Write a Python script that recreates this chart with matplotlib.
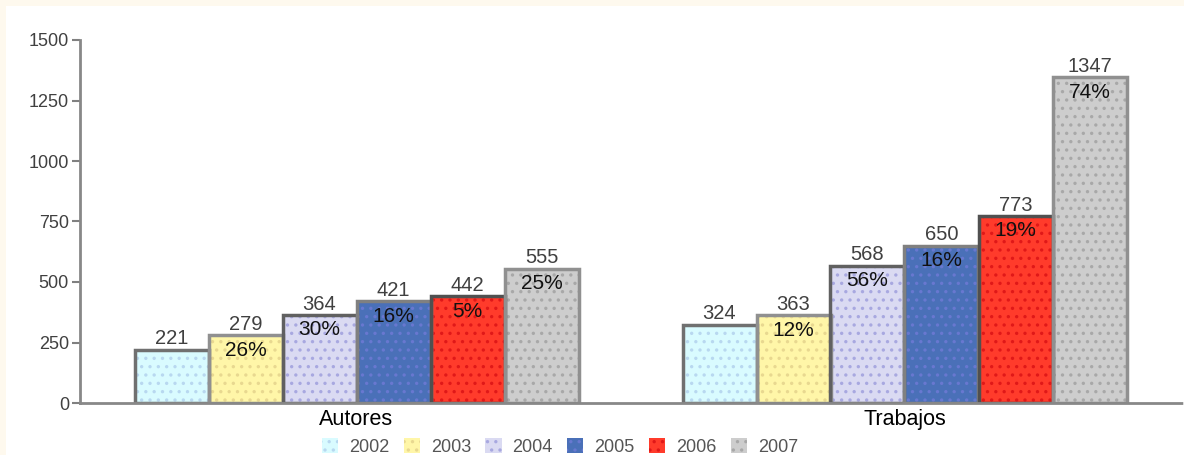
import matplotlib
matplotlib.use("Agg")
import matplotlib.pyplot as plt
from matplotlib.patches import Rectangle, Patch
import numpy as np

plt.rcParams['font.family'] = ['Liberation Sans', 'DejaVu Sans']

categories = ["Autores", "Trabajos"]
years = ["2002", "2003", "2004", "2005", "2006", "2007"]
values = {
    "2002": [221, 324],
    "2003": [279, 363],
    "2004": [364, 568],
    "2005": [421, 650],
    "2006": [442, 773],
    "2007": [555, 1347],
}
pct_labels = {
    "2002": ["", ""],
    "2003": ["26%", "12%"],
    "2004": ["30%", "56%"],
    "2005": ["16%", "16%"],
    "2006": ["5%", "19%"],
    "2007": ["25%", "74%"],
}
yticks = [0, 250, 500, 750, 1000, 1250, 1500]
ytick_labels = ["0", "250", "500", "750", "1000", "1250", "1500"]

face = ["#D9FBFF", "#FFF6A8", "#DADAF2", "#4A70B8", "#FF3B2B", "#CDCDCD"]
hatchc = ["#B8D8F0", "#E8D890", "#A8A8E0", "#6878D0", "#E01818", "#A8A8A8"]
edge = ["#707070", "#909090", "#606060", "#808080", "#505050", "#909090"]

W, H = 1184, 455
fig = plt.figure(figsize=(W / 100, H / 100), dpi=100, facecolor="#FEF9EE")
fig.patches.append(Rectangle((6 / W, 0), 1, (H - 6) / H, transform=fig.transFigure,
                             facecolor="white", edgecolor="none", zorder=-10))

ax = fig.add_axes([80 / W, (H - 403) / H, (W - 80) / W, (403 - 40) / H])
ax.set_facecolor("none")
ax.set_zorder(5)

group_px = 548.0
bw = 74.0 / group_px
x = np.arange(len(categories))
plt.rcParams['hatch.linewidth'] = 1.2
for i, yr in enumerate(years):
    xs = x + (i - 2.5) * bw
    ax.bar(xs, values[yr], width=bw, color=face[i], edgecolor=hatchc[i],
           hatch="..", linewidth=0, zorder=2)
    ax.bar(xs, values[yr], width=bw, fill=False, edgecolor=edge[i],
           linewidth=2.5, zorder=3)
    for xi, v, p in zip(xs, values[yr], pct_labels[yr]):
        ax.annotate(str(v), (xi, v), xytext=(0, 1), textcoords="offset points",
                    ha="center", va="bottom", fontsize=14.5, color="#404040", zorder=5)
        if p:
            ax.annotate(p, (xi, v), xytext=(0, -4), textcoords="offset points",
                        ha="center", va="top", fontsize=15, color="#111111",
                        zorder=5)

left = 276.5 / group_px
ax.set_xlim(-left, (W - 80) / group_px - left)
ax.set_ylim(0, 1500)
ax.set_yticks(yticks)
ax.set_yticklabels(ytick_labels, fontsize=13, color="#404040")
ax.set_xticks(x)
ax.set_xticklabels(categories, fontsize=15.5, color="black")
ax.tick_params(axis="x", length=0, pad=4)
ax.tick_params(axis="y", length=6, width=1.5, color="#808080", pad=2)

for s in ["top", "right"]:
    ax.spines[s].set_visible(False)
for s in ["left", "bottom"]:
    ax.spines[s].set_color("#888888")
    ax.spines[s].set_linewidth(2)
    ax.spines[s].set_linestyle((0, (1.5, 1)))
    ax.spines[s].set_zorder(4)

handles = [Patch(facecolor=face[i], edgecolor=hatchc[i], hatch="..", linewidth=0)
           for i in range(len(years))]
leg = fig.legend(handles, years, loc="center", bbox_to_anchor=(560 / W, 8 / H),
                 ncol=6, frameon=False, fontsize=13, handlelength=0.9,
                 handleheight=0.9, handletextpad=0.6, columnspacing=0.8,
                 borderaxespad=0, borderpad=0)
for t in leg.get_texts():
    t.set_color("#555555")

fig.savefig("out.png", dpi=100, facecolor=fig.get_facecolor())
